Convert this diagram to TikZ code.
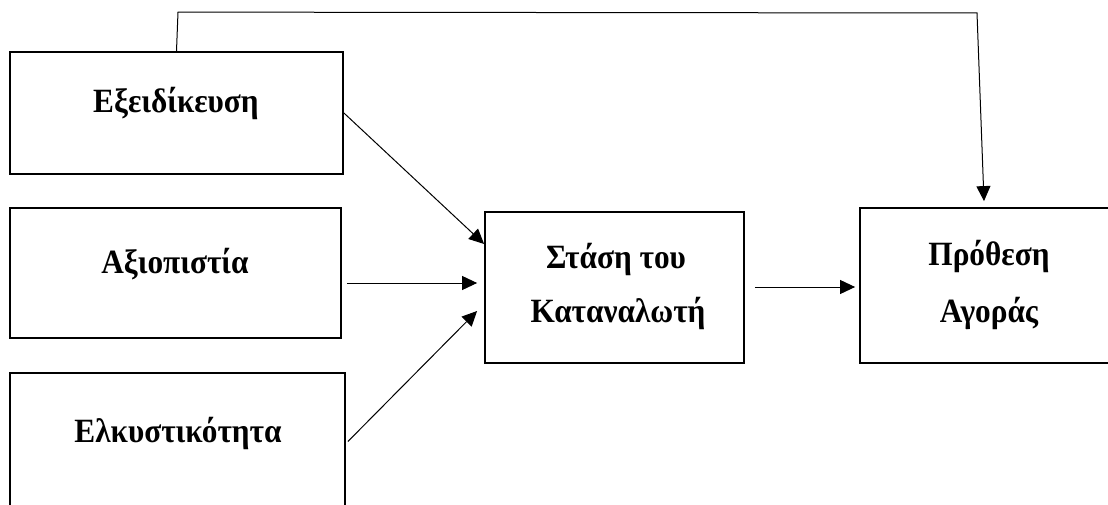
\documentclass[tikz,border=0pt]{standalone}
\usepackage{fontspec}
\setmainfont[FakeStretch=0.92]{Liberation Serif}
\usetikzlibrary{arrows.meta,calc}
\tikzset{
  box/.style={draw, line width=1.8pt, rectangle, inner sep=0pt},
  lbl/.style={font=\fontsize{34}{54}\selectfont\bfseries, inner sep=0pt, align=center},
  conn/.style={line width=1pt, -{Triangle[length=15pt,width=14pt]}}
}
\begin{document}
\begin{tikzpicture}[x=1pt,y=1pt]
\useasboundingbox (0,0) rectangle (1108,504);
\node[box, minimum width=333pt, minimum height=122pt] (b1) at (176.5,391) {};
\node[box, minimum width=331pt, minimum height=130pt] (b2) at (175.5,231) {};
\node[box, minimum width=335pt, minimum height=137pt] (b3) at (177.5,62.5) {};
\node[box, minimum width=259pt, minimum height=151pt] (b4) at (614.5,216.5) {};
\node[box, minimum width=260pt, minimum height=155pt] (b5) at (990,218.5) {};
\node[lbl, anchor=base] (t1) at (176,391) {Εξειδίκευση};
\node[lbl, anchor=base] (t2) at (175,231) {Αξιοπιστία};
\node[lbl, anchor=base] (t3) at (178,62) {Ελκυστικότητα};
\node[lbl, anchor=base] (t4a) at (616,236) {Στάση του};
\node[lbl, anchor=base] (t4b) at (618,182) {Καταναλωτή};
\node[lbl, anchor=base] (t5a) at (989,239) {Πρόθεση};
\node[lbl, anchor=base] (t5b) at (989,182) {Αγοράς};
\coordinate (c1) at ($(b1.north)+(1.5,39)$);
\coordinate (c2) at (977,491);
\draw[conn] (b1.north) -- (c1) -- (c2) -- ($(b5.north)+(-6,6)$);
\draw[conn] (b1.east) -- ($(b4.west)+(0,43.5)$);
\draw[conn] ($(b2.east)+(5,-10)$) -- ($(b4.west)+(-7,4.5)$);
\draw[conn] ($(b3.east)+(2,0)$) -- ($(b4.west)+(-7,-23.5)$);
\draw[conn] ($(b4.east)+(10,0.5)$) -- ($(b5.west)+(-4,-1.5)$);
\end{tikzpicture}
\end{document}
